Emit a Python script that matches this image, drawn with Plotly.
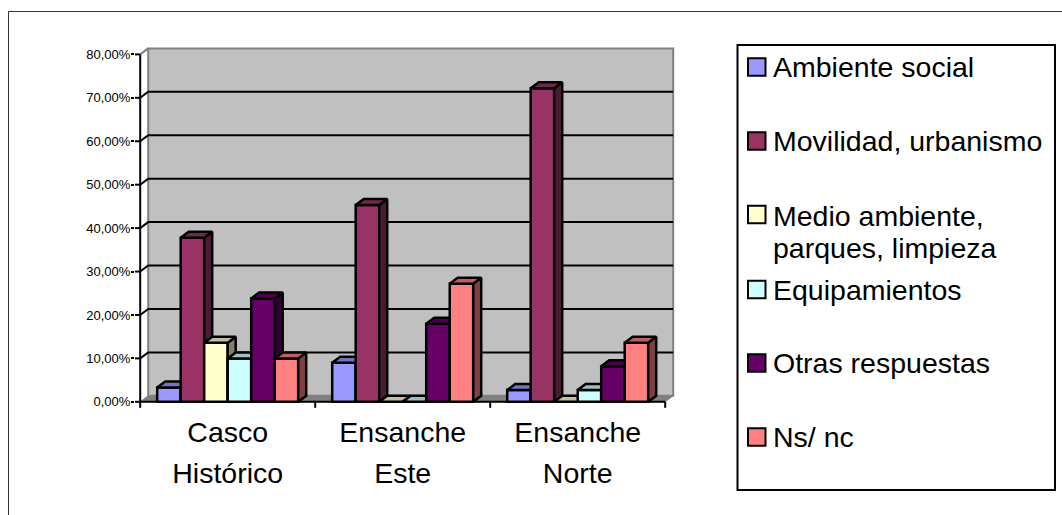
import plotly.graph_objects as go

categories_line1 = ["Casco", "Ensanche", "Ensanche"]
categories_line2 = ["Histórico", "Este", "Norte"]
series_names = ["Ambiente social", "Movilidad, urbanismo", "Medio ambiente,", "Equipamientos", "Otras respuestas", "Ns/ nc"]
ambiente_social = [3.3, 9.0, 2.7]
movilidad_urbanismo = [37.8, 45.3, 72.2]
medio_ambiente = [13.6, 0.0, 0.0]
equipamientos = [10.0, 0.0, 2.7]
otras_respuestas = [23.8, 18.0, 8.2]
ns_nc = [10.0, 27.2, 13.6]
colors = ["#9999FF", "#993366", "#FFFFCC", "#CCFFFF", "#660066", "#FF8080"]
y_ticks = [0, 10, 20, 30, 40, 50, 60, 70, 80]
y_tick_labels = ["0,00%", "10,00%", "20,00%", "30,00%", "40,00%", "50,00%", "60,00%", "70,00%", "80,00%"]

series = [ambiente_social, movilidad_urbanismo, medio_ambiente, equipamientos, otras_respuestas, ns_nc]

W, H = 1062, 515
PX_X = 175.0      # pixels per category
PX_Y = 4.3425     # pixels per percentage point
DX = 8 / PX_X     # depth, in axis units
DY = 6 / PX_Y
LEFT, RIGHT, TOP, BOTTOM = 135, 677, 44, 412
FRONT_X0, BASE_Y = 140.2, 401.8
x_range = [-0.5 - (FRONT_X0 - LEFT) / PX_X, -0.5 + (RIGHT - FRONT_X0) / PX_X]
y_range = [-(BOTTOM - BASE_Y) / PX_Y, (BASE_Y - TOP) / PX_Y]
BAR_W = 0.1343
X0, X1 = -0.5, 2.5
TEXT_SIZE = 28.5


def shade(hex_color, f):
    r, g, b = (int(hex_color[i:i + 2], 16) for i in (1, 3, 5))
    return f"rgb({round(r * f)},{round(g * f)},{round(b * f)})"


def fx(px):
    return px / W


def fy(px):
    return 1 - px / H


fig = go.Figure()


def poly(xs, ys, fill, line, lw, xa="x", ya="y"):
    fig.add_trace(go.Scatter(x=xs, y=ys, mode="lines", fill="toself", fillcolor=fill,
                             line=dict(color=line, width=lw), xaxis=xa, yaxis=ya,
                             showlegend=False, hoverinfo="skip"))


def path(xs, ys, color, lw, xa="x", ya="y"):
    fig.add_trace(go.Scatter(x=xs, y=ys, mode="lines", line=dict(color=color, width=lw),
                             xaxis=xa, yaxis=ya, showlegend=False, hoverinfo="skip"))


top_v = y_ticks[-1]
# back wall and floor
poly([X0 + DX, X0 + DX, X1 + DX, X1 + DX, X0 + DX], [DY, top_v + DY, top_v + DY, DY, DY], "#C0C0C0", "#808080", 2)
poly([X0, X1, X1 + DX, X0 + DX, X0], [0, 0, DY, DY, 0], "#808080", "#808080", 1)
path([X0, X0 + DX], [top_v, top_v + DY], "#808080", 2)

# gridlines with their step across the side wall
gx, gy = [], []
for v in y_ticks[1:-1]:
    gx += [X0, X0 + DX, X1 + DX, None]
    gy += [v, v + DY, v + DY, None]
path(gx, gy, "#000000", 2)
# axis lines and tick stubs
path([X0, X0], [y_ticks[0], top_v], "#000000", 2)
path([X0, X1], [0, 0], "#000000", 2)
sx, sy = [], []
for i in range(4):
    sx += [X0 + i, X0 + i, None]
    sy += [0, -6 / PX_Y, None]
for v in y_ticks:
    sx += [x_range[0], X0, None]
    sy += [v, v, None]
path(sx, sy, "#000000", 2)

# one overlaid subplot per series so that later bars cover earlier depth faces
for s, (values, color) in enumerate(zip(series, colors)):
    xa, ya = f"x{s + 2}", f"y{s + 2}"
    off = (s - 3) * BAR_W
    for c, v in enumerate(values):
        xl = c + off
        xr = xl + BAR_W
        poly([xr, xr + DX, xr + DX, xr, xr], [0, DY, v + DY, v, 0], shade(color, 0.5), "#000000", 2.5, xa, ya)
        poly([xl, xl + DX, xr + DX, xr, xl], [v, v + DY, v + DY, v, v], shade(color, 0.75), "#000000", 2.5, xa, ya)
    fig.add_trace(go.Bar(x=[0, 1, 2], y=values, width=BAR_W, offset=off, name=series_names[s],
                         marker=dict(color=color, line=dict(color="#000000", width=2.5)),
                         xaxis=xa, yaxis=ya, showlegend=False))

domain_x = [fx(LEFT), fx(RIGHT)]
domain_y = [fy(BOTTOM), fy(TOP)]
font_family = "Liberation Sans, Arial, sans-serif"
layout = dict(
    width=W, height=H, autosize=False,
    margin=dict(l=0, r=0, t=0, b=0, pad=0),
    paper_bgcolor="#FFFFFF", plot_bgcolor="rgba(0,0,0,0)",
    barmode="overlay", showlegend=False,
    font=dict(family=font_family, color="#000000"),
    xaxis=dict(domain=domain_x, range=x_range, showgrid=False, zeroline=False, showline=False,
               tickmode="array", tickvals=[0, 1, 2], ticktext=categories_line1, ticks="",
               tickfont=dict(size=TEXT_SIZE), ticklabelstandoff=0, automargin=False),
    yaxis=dict(domain=domain_y, range=y_range, showgrid=False, zeroline=False, showline=False,
               tickmode="array", tickvals=y_ticks, ticktext=y_tick_labels, ticks="outside",
               ticklen=3, tickwidth=2, tickcolor="#000000", tickfont=dict(size=13),
               ticklabelstandoff=-2, automargin=False),
)
for s in range(6):
    n = s + 2
    layout[f"xaxis{n}"] = dict(overlaying="x", anchor=f"y{n}", range=x_range, visible=False)
    layout[f"yaxis{n}"] = dict(overlaying="y", anchor=f"x{n}", range=y_range, visible=False)
# second line of the category labels
layout["xaxis7"] = dict(overlaying="x", anchor="y7", range=x_range, visible=True, showgrid=False,
                        zeroline=False, showline=False, tickmode="array", tickvals=[0, 1, 2],
                        ticktext=categories_line2, ticks="", tickfont=dict(size=TEXT_SIZE),
                        ticklabelstandoff=41, side="bottom", automargin=False)
fig.update_layout(**layout)

# page frame (only left and top fall inside the picture)
fig.add_shape(type="rect", xref="paper", yref="paper", x0=fx(8.5), x1=fx(1070), y0=fy(11.5), y1=fy(530),
              line=dict(color="#333333", width=1))
# legend box
fig.add_shape(type="rect", xref="paper", yref="paper", x0=fx(737.5), x1=fx(1055), y0=fy(45), y1=fy(490),
              line=dict(color="#000000", width=2), fillcolor="#FFFFFF", layer="below")

swatch_y = [67, 141, 214.5, 289.5, 363, 437]
text_y = [67, 141, 216, 289.5, 363, 437]
for name, color, yc, yt in zip(series_names, colors, swatch_y, text_y):
    fig.add_shape(type="rect", xref="paper", yref="paper", x0=fx(748), x1=fx(765.5), y0=fy(yc - 8.75), y1=fy(yc + 8.75),
                  line=dict(color="#000000", width=2), fillcolor=color)
    fig.add_annotation(xref="paper", yref="paper", x=fx(771), y=fy(yt), text=name, showarrow=False,
                       xanchor="left", yanchor="middle", font=dict(size=TEXT_SIZE, color="#000000"))
fig.add_annotation(xref="paper", yref="paper", x=fx(771), y=fy(248), text="parques, limpieza", showarrow=False,
                   xanchor="left", yanchor="middle", font=dict(size=TEXT_SIZE, color="#000000"))

fig.write_html("out.html", config={"displayModeBar": False},
               post_script="document.body.style.margin='0';document.body.style.overflow='hidden';")
